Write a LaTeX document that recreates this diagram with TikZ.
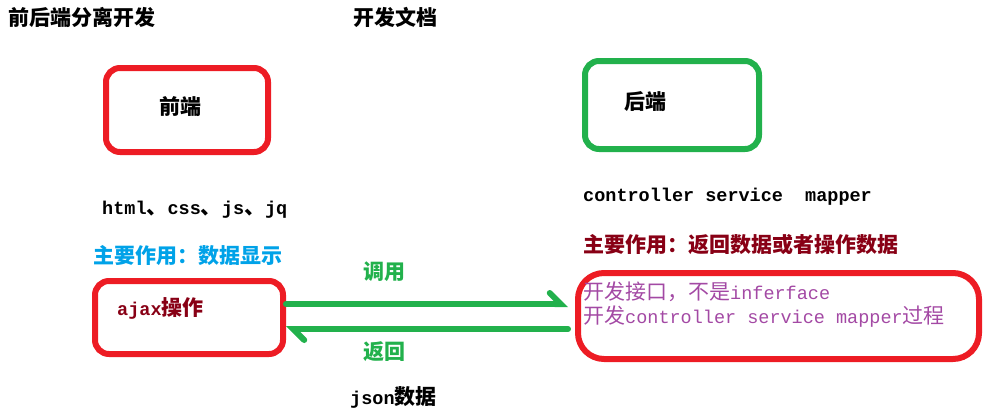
\documentclass[tikz,border=0pt]{standalone}
\usepackage{fontspec}
\setmonofont{Liberation Mono}
\newfontfamily\cjk{Noto Sans CJK SC}
\usepackage{tikz}
\usetikzlibrary{positioning, arrows.meta, calc}

\definecolor{paintred}{HTML}{ED1C24}
\definecolor{paintgreen}{HTML}{22B14C}
\definecolor{paintcyan}{HTML}{00A2E8}
\definecolor{paintwine}{HTML}{880015}
\definecolor{paintpurple}{HTML}{A349A4}

\newcommand{\zh}[1]{{\cjk\bfseries\fontsize{21}{24}\selectfont #1}}
\newcommand{\zhl}[1]{{\cjk\fontsize{21}{24}\selectfont #1}}
\newcommand{\code}[1]{{\ttfamily\bfseries #1}}
\newcommand{\codel}[1]{{\ttfamily #1}}

\begin{document}
\begin{tikzpicture}[x=1pt, y=-1pt]
	% Define styles
	\tikzset{
		box/.style={rectangle, rounded corners=14pt, draw, line width=6pt, inner sep=0pt},
		txt/.style={anchor=west, inner sep=0pt},
		code/.style={anchor=west, inner sep=0pt, font=\fontsize{18.5}{24}\selectfont},
		line/.style={draw=paintgreen, line width=6pt, line cap=round,
			-{Straight Barb[harpoon, length=11pt, width=22pt, line cap=round]}}
	}
	\useasboundingbox (0,0) rectangle (988,416);
	
	% Nodes
	\node[txt] (title) at (8,17) {\zh{前后端分离开发}};
	\node[txt] (doc) at (353,17) {\zh{开发文档}};
	
	\node[box, draw=paintred, minimum width=162pt, minimum height=84pt] (front) at (187,110) {};
	\node[txt, anchor=center] (frontlabel) at (180,107) {\zh{前端}};
	\node[box, draw=paintgreen, minimum width=174pt, minimum height=88pt] (back) at (672,105) {};
	\node[txt, anchor=center] (backlabel) at (645,102) {\zh{后端}};
	
	\node[code] (tech) at (102,210) {\code{html}\zh{、}\code{css}\zh{、}\code{js}\zh{、}\code{jq}};
	\node[code] (layers) at (583,197) {\code{controller service\ \ mapper}};
	\node[txt, text=paintcyan] (frontrole) at (93,256) {\zh{主要作用：数据显示}};
	\node[txt, text=paintwine] (backrole) at (583,245) {\zh{主要作用：返回数据或者操作数据}};
	
	\node[box, draw=paintred, minimum width=188pt, minimum height=73pt] (ajax) at (189,317.5) {};
	\node[code, text=paintwine] (ajaxlabel) at (117,308) {\code{ajax}\zh{操作}};
	\node[box, draw=paintred, rounded corners=26pt, minimum width=401pt, minimum height=86pt] (api) at (778.5,316) {};
	\node[code, text=paintpurple, anchor=north west, align=left] (apilabel) at (583,282)
		{\zhl{开发接口，不是}\codel{inferface}\\\zhl{开发}\codel{controller service mapper}\zhl{过程}};
	
	\node[txt, text=paintgreen] (calllabel) at (363,272) {\zh{调用}};
	\node[txt, text=paintgreen] (retlabel) at (363,352) {\zh{返回}};
	\node[code] (json) at (350,397) {\code{json}\zh{数据}};
	
	% Arrows
	\coordinate (callstart) at ([yshift=13.5pt]ajax.east);
	\coordinate (retstart) at ([yshift=-13pt]api.west);
	\path [line, shorten >=7pt] (callstart) -- (callstart -| api.west);
	\path [line, shorten <=7pt] (retstart) -- (retstart -| ajax.east);
\end{tikzpicture}
\end{document}
